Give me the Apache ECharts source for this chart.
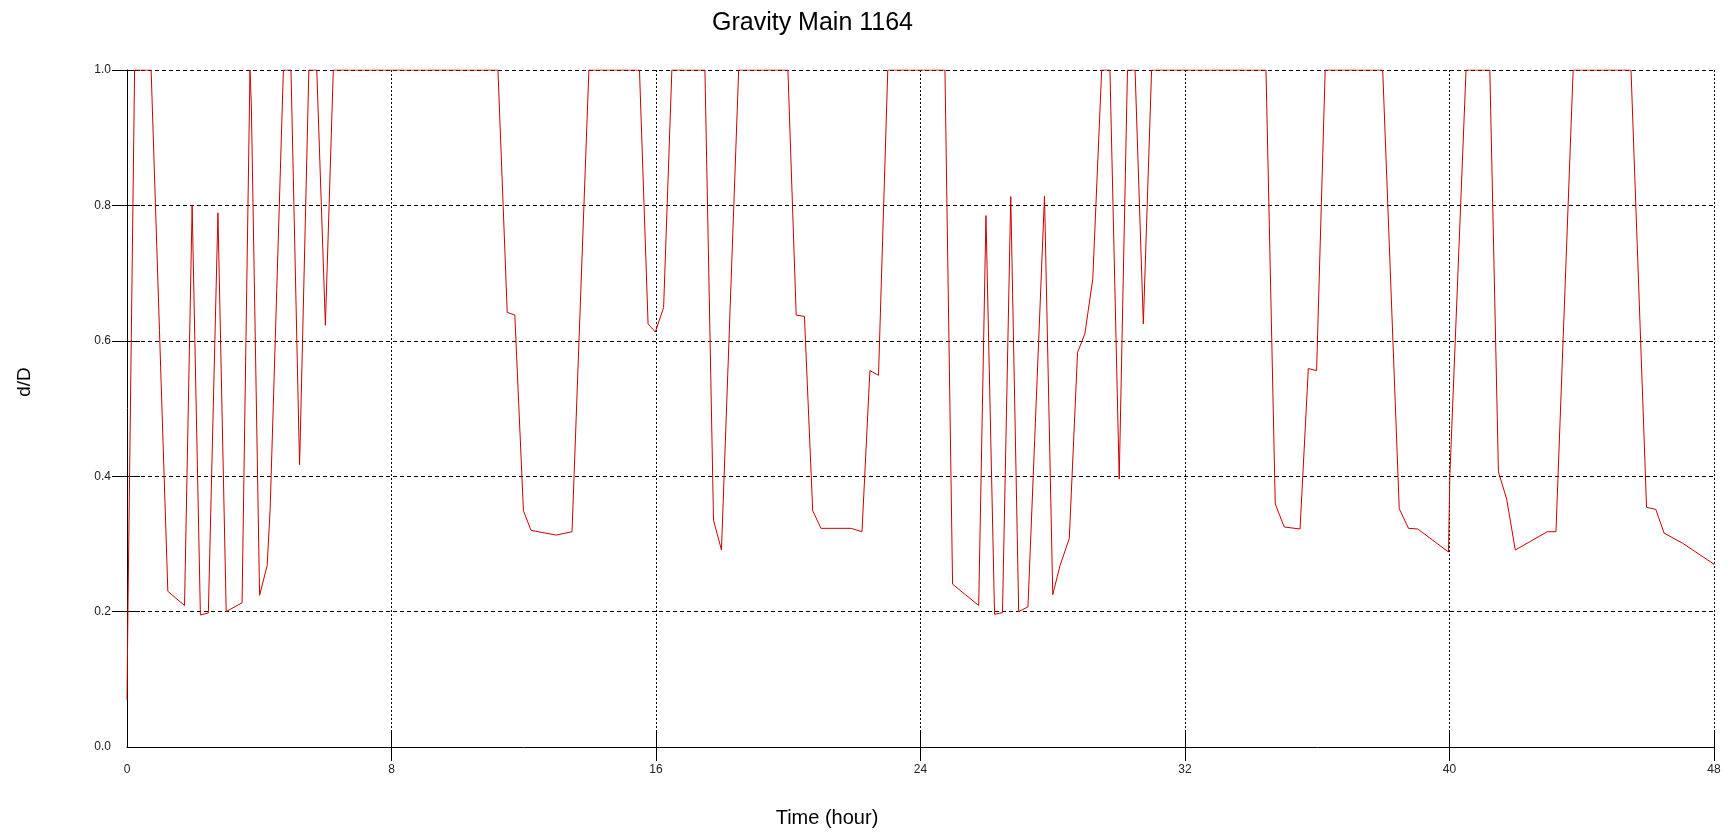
<!DOCTYPE html>
<html>
<head>
<meta charset="utf-8">
<title>Gravity Main 1164</title>
<script src="https://cdn.jsdelivr.net/npm/echarts@6/dist/echarts.min.js"></script>
<style>
    html, body { margin: 0; padding: 0; background: #fff; }
    #chart { width: 1732px; height: 835px; }
</style>
</head>
<body>
<div id="chart"></div>
<script>
// time (hour) / depth ratio pairs
var hours = [
    0.0, 0.03, 0.23, 0.73, 1.235, 1.74, 1.97, 2.22, 2.46, 2.75, 3.0, 3.48, 3.72, 3.76, 4.01, 4.24, 4.33, 4.73,
    4.96, 5.20, 5.22, 5.24, 5.50, 5.74, 6.0, 6.24, 11.22, 11.50, 11.73, 11.99, 12.22, 12.98, 13.46, 13.97,
    15.50, 15.76, 15.98, 16.23, 16.48, 17.48, 17.74, 17.98, 18.50, 19.99, 20.24, 20.49, 20.74, 20.99, 21.90,
    22.23, 22.47, 22.73, 23.01, 24.74, 24.97, 25.76, 25.98, 26.24, 26.48, 26.73, 26.97, 27.25, 27.75, 28.0,
    28.22, 28.50, 28.75, 28.97, 29.21, 29.48, 29.73, 30.01, 30.26, 30.49, 30.74, 30.99, 34.45, 34.73, 35.0,
    35.48, 35.73, 35.98, 36.24, 37.98, 38.48, 38.76, 39.04, 39.97, 40.01, 40.50, 41.22, 41.48, 41.73, 41.99,
    42.96, 43.22, 43.74, 45.49, 45.96, 46.24, 46.49, 47.05, 48.0
];
var depthRatio = [
    0.07, 0.21, 1.0, 1.0, 0.23, 0.209, 0.80, 0.195, 0.198, 0.789, 0.20, 0.213, 1.0, 0.95, 0.224, 0.268, 0.352, 1.0,
    1.0, 0.457, 0.417, 0.455, 1.0, 1.0, 0.623, 1.0, 1.0, 0.642, 0.638, 0.349, 0.32, 0.313, 0.318, 1.0,
    1.0, 0.625, 0.613, 0.649, 1.0, 1.0, 0.335, 0.291, 1.0, 1.0, 0.638, 0.636, 0.349, 0.323, 0.323,
    0.318, 0.556, 0.549, 1.0, 1.0, 0.2405, 0.209, 0.785, 0.196, 0.1985, 0.813, 0.20, 0.207, 0.814, 0.225,
    0.268, 0.308, 0.583, 0.61, 0.691, 1.0, 1.0, 0.396, 1.0, 1.0, 0.625, 1.0, 1.0, 0.359, 0.325,
    0.322, 0.559, 0.556, 1.0, 1.0, 0.352, 0.323, 0.322, 0.288, 0.40, 1.0, 1.0, 0.4065, 0.366, 0.291,
    0.318, 0.318, 1.0, 1.0, 0.354, 0.351, 0.316, 0.301, 0.27
];
var xTicks = [8, 16, 24, 32, 40, 48];
var yTicks = [0.2, 0.4, 0.6, 0.8, 1.0];

var points = hours.map(function (h, i) { return [h, depthRatio[i]]; });

var font = "Liberation Sans, Arial, sans-serif";
var chart = echarts.init(document.getElementById("chart"), null, { renderer: "canvas" });

var gridBox = { left: 127, top: 70, right: 18, bottom: 88 };

chart.setOption({
    animation: false,
    backgroundColor: "#fff",
    title: {
        text: "Gravity Main 1164",
        left: 707,
        top: 6,
        textStyle: { fontFamily: font, fontSize: 25, fontWeight: "normal", color: "#000" },
    },
    graphic: [
        {
            type: "text",
            x: 25,
            y: 382,
            rotation: Math.PI / 2,
            style: { text: "d/D", fontFamily: font, fontSize: 19, fill: "#000", align: "center", verticalAlign: "middle" },
        },
        {
            type: "text",
            x: 827,
            y: 818,
            style: { text: "Time (hour)", fontFamily: font, fontSize: 20, fill: "#000", align: "center", verticalAlign: "middle" },
        },
    ],
    grid: gridBox,
    xAxis: [
        {
            type: "value",
            min: 0,
            max: 48,
            interval: 8,
            axisLine: { show: true, onZero: false, lineStyle: { color: "#000", width: 1 } },
            axisTick: { show: true, length: 14, customValues: xTicks, lineStyle: { color: "#000" } },
            axisLabel: { margin: 17, fontFamily: font, fontSize: 12, color: "#222" },
            splitLine: { show: true, lineStyle: { color: "#000", type: [2, 2], width: 1 } },
        },
        {
            type: "value",
            position: "bottom",
            min: 0,
            max: 48,
            interval: 8,
            axisLine: { show: false },
            axisTick: { show: true, inside: true, length: 15, customValues: xTicks, lineStyle: { color: "#000" } },
            axisLabel: { show: false },
            splitLine: { show: false },
        },
    ],
    yAxis: [
        {
            type: "value",
            min: 0,
            max: 1,
            interval: 0.2,
            axisLine: { show: true, onZero: false, lineStyle: { color: "#000", width: 1 } },
            axisTick: { show: true, length: 15, customValues: yTicks, lineStyle: { color: "#000" } },
            axisLabel: {
                margin: 16,
                fontFamily: font,
                fontSize: 12,
                color: "#222",
                formatter: function (v) { return v.toFixed(1); },
            },
            splitLine: { show: true, lineStyle: { color: "#000", type: [4, 3], width: 1 } },
        },
        {
            type: "value",
            position: "left",
            min: 0,
            max: 1,
            interval: 0.2,
            axisLine: { show: false },
            axisTick: { show: true, inside: true, length: 13, customValues: yTicks, lineStyle: { color: "#000" } },
            axisLabel: { show: false },
            splitLine: { show: false },
        },
    ],
    series: [
        {
            name: "d/D",
            type: "line",
            data: points,
            showSymbol: false,
            lineStyle: { color: "#cc0000", width: 1 },
            z: 5,
        },
    ],
});
</script>
</body>
</html>
